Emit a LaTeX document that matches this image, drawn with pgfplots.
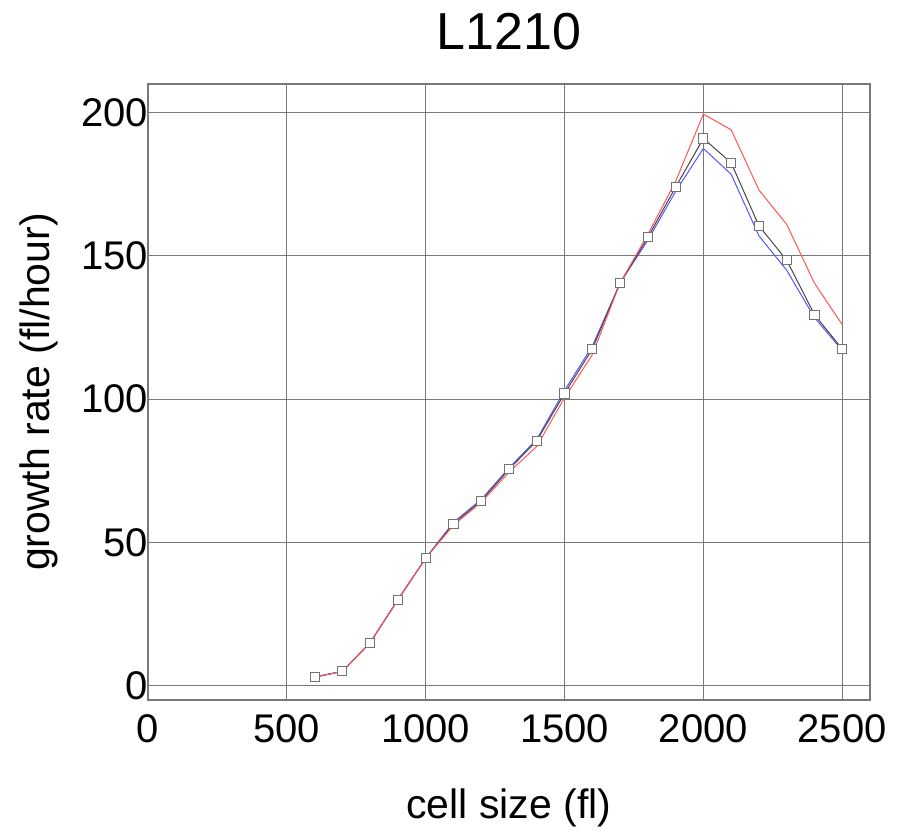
\documentclass[border=0pt]{standalone}
\usepackage{fontspec}
\setmainfont{Liberation Sans}
\usepackage{pgfplots}
\pgfplotsset{compat=1.18}

\definecolor{gridgray}{RGB}{120,120,120}
\definecolor{lred}{RGB}{255,85,85}
\definecolor{lblue}{RGB}{85,85,255}
\definecolor{lblack}{RGB}{70,70,70}

\pgfplotstableread{
x    black  red    blue
600  3      3      3
700  5      5      5
800  15     15     15
900  30     30     30
1000 44.5   44.5   44.5
1100 56.5   56     57
1200 64.5   64     65
1300 75.5   74.5   76
1400 85.5   83.5   86
1500 102    100.5  103
1600 117.5  115.5  118.5
1700 140.5  140.5  140.5
1800 156.5  157.5  155.5
1900 174    176    172.5
2000 191    199.5  187.5
2100 182.5  194    178.5
2200 160.5  173    157
2300 148.5  161    145
2400 129.5  140.5  128.5
2500 117.5  126    117
}\growth

\begin{document}
\begin{tikzpicture}
\begin{axis}[
  scale only axis,
  width=361pt,
  height=308pt,
  xmin=0, xmax=2600,
  ymin=-5, ymax=210,
  xtick={0,500,...,2500},
  ytick={0,50,...,200},
  grid=major,
  major grid style={gridgray, line width=0.5pt},
  axis line style={gridgray, line width=0.6pt},
  tick style={draw=none},
  tick label style={font=\fontsize{20}{24}\selectfont},
  /pgf/number format/assume math mode=true,
  /pgf/number format/set thousands separator={},
  xticklabel style={yshift=-4pt},
  yticklabel style={xshift=3.5pt},
  clip=false,
]
\addplot[lblue, line width=0.5pt] table[x=x, y=blue] {\growth};
\addplot[lblack, line width=0.5pt, mark=square*, mark size=2.3pt,
  mark options={draw=black!55, fill=white, line width=0.5pt}] table[x=x, y=black] {\growth};
\addplot[lred, line width=0.5pt] table[x=x, y=red] {\growth};
\node[anchor=base, font=\fontsize{26}{30}\selectfont] at (rel axis cs:0.5,1) [yshift=17pt] {L1210};
\node[anchor=base, font=\fontsize{20.5}{24}\selectfont] at (rel axis cs:0.5,0) [yshift=-59.5pt] {cell size (fl)};
\node[anchor=base, rotate=90, font=\fontsize{20.5}{24}\selectfont] at (rel axis cs:0,0.5) [yshift=49pt] {growth rate (fl/hour)};
\end{axis}
\pgfresetboundingbox
\path ([shift={(-74pt,-70pt)}]current axis.south west) rectangle ([shift={(21pt,42pt)}]current axis.north east);
\end{tikzpicture}
\end{document}
